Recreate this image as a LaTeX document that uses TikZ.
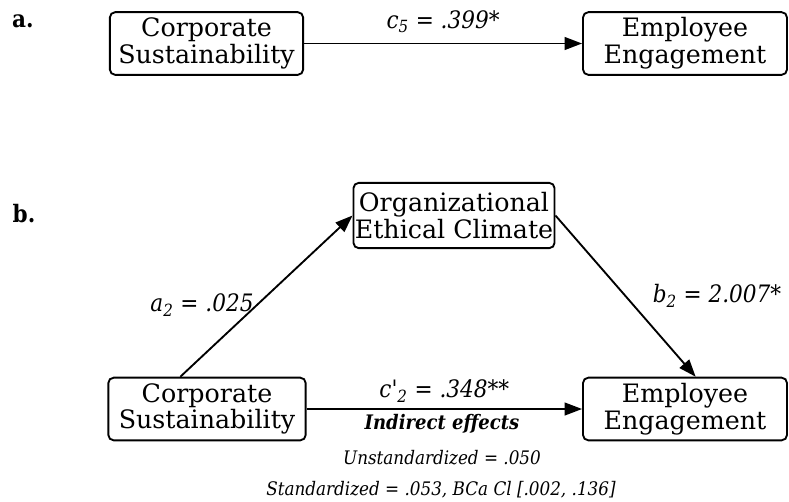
\documentclass[tikz,border=0pt]{standalone}
\usepackage{fontspec}
\setmainfont{DejaVu Serif Condensed}
\newfontfamily\boxfont{DejaVu Serif}
\usepackage{tikz}
\usetikzlibrary{positioning,arrows.meta}

\begin{document}
\begin{tikzpicture}[
  x=0.75pt,y=-0.75pt,
  font=\boxfont\fontsize{19}{20}\selectfont,
  var/.style={draw=black,line width=1.4pt,rounded corners=4pt,fill=white,
              minimum height=47pt,minimum width=145pt,align=center,inner sep=1pt},
  arr/.style={-{Triangle[length=13pt,width=9.5pt]},draw=black,line width=1.4pt},
  coef/.style={font=\fontsize{18}{20}\selectfont\itshape},
  note/.style={font=\fontsize{14}{16}\selectfont\itshape},
  panel/.style={font=\fontsize{18}{20}\selectfont\bfseries},
]
\useasboundingbox (0,0) rectangle (789,501);

% a. total effect
\node[panel] (la) at (23,21) {a.};
\node[var] (csA) at (206.5,43.5) {Corporate\\Sustainability};
\node[var,minimum width=153pt] (eeA) at (685,43.5) {Employee\\Engagement};
\draw[arr] (csA.east) -- node[coef,above,yshift=4pt]{c\textsubscript{5} = .399*} (eeA.west);

% b. mediation model
\node[panel] (lb) at (24,214) {b.};
\node[var,minimum width=144pt,minimum height=49pt] (oec) at (454,215.5) {Organizational\\Ethical Climate};
\node[var,minimum width=148pt] (csB) at (207,409) {Corporate\\Sustainability};
\node[var,minimum width=153pt] (eeB) at (685,409) {Employee\\Engagement};

\draw[arr] ([xshift=-20pt]csB.north) -- (oec.west);
\draw[arr] (oec.east) -- ([xshift=8pt]eeB.north);
\draw[arr] (csB.east) -- node[coef,above,yshift=1pt]{c\textquotesingle\textsubscript{2} = .348**} (eeB.west);

\node[coef] (a2) at (202,305) {a\textsubscript{2} = .025};
\node[coef] (b2) at (717,296) {b\textsubscript{2} = 2.007*};

% indirect effects
\node[note,font=\fontsize{15}{17}\selectfont\bfseries\itshape] (ind) at (442,424) {Indirect effects};
\node[note] (uns) at (442,458) {Unstandardized = .050};
\node[note] (std) at (441,490) {Standardized = .053, BCa Cl [.002, .136]};
\end{tikzpicture}
\end{document}
